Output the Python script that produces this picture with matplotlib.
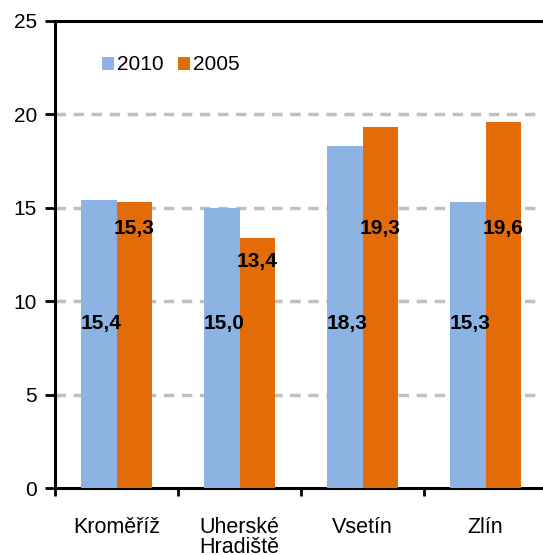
import numpy as np
import matplotlib
matplotlib.use('Agg')
import matplotlib.pyplot as plt

plt.rcParams['font.family'] = ['Liberation Sans', 'DejaVu Sans']

categories = ['Kroměříž', 'Uherské\nHradiště', 'Vsetín', 'Zlín']
years = ['2010', '2005']
vals_2010 = [15.4, 15.0, 18.3, 15.3]
vals_2005 = [15.3, 13.4, 19.3, 19.6]

colors = ['#8DB3E2', '#E36C09']

fig = plt.figure(figsize=[5.43, 5.55], dpi=100)
ax = fig.add_axes([55/543, 1-488/555, 492/543, 467/555])

x = np.arange(len(categories))
w = 0.285
ax.bar(x - w/2, vals_2010, w, color=colors[0], label=years[0], zorder=3)
ax.bar(x + w/2, vals_2005, w, color=colors[1], label=years[1], zorder=3)

# value labels (2010 sit low in the bar, 2005 just under the top)
for xi, v in zip(x, vals_2010):
    ax.text(xi - w/2 + 0.02, 8.8, '{0:.1f}'.format(v).replace('.', ','),
            ha='center', va='center', fontsize=15, fontweight='bold', zorder=4)
for xi, v in zip(x, vals_2005):
    ax.text(xi + w/2, min(13.9, v - 1.3), '{0:.1f}'.format(v).replace('.', ','),
            ha='center', va='center', fontsize=15, fontweight='bold', zorder=4)

ax.set_xlim(-0.5, len(categories) - 0.5)
ax.set_ylim(0, 25)
ax.set_yticks(np.arange(0, 26, 5))
ax.set_xticks(x)
ax.set_xticklabels(categories, fontsize=15.5, linespacing=0.95)
ax.set_xticks(np.arange(len(categories)) - 0.5, minor=True)
ax.tick_params(axis='x', which='major', length=0, pad=21)
ax.tick_params(axis='x', which='minor', length=6, width=2, direction='out')
ax.tick_params(axis='y', length=7, width=2, direction='out', labelsize=15, pad=6)

for yv in [5, 10, 15, 20]:
    ax.axhline(yv, color='#C0C0C0', lw=2.5, ls=(0, (3, 2.2)), zorder=1)

ax.spines['right'].set_visible(False)
for s in ['left', 'bottom', 'top']:
    ax.spines[s].set_linewidth(2.2)
    ax.spines[s].set_color('black')

ax.legend(loc='center left', bbox_to_anchor=(0.095, (488-65)/467), ncol=2, frameon=False,
          fontsize=15, handlelength=0.6, handleheight=0.6, handletextpad=0.15,
          columnspacing=0.65, borderpad=0, borderaxespad=0)

fig.savefig('out.png', dpi=100)
